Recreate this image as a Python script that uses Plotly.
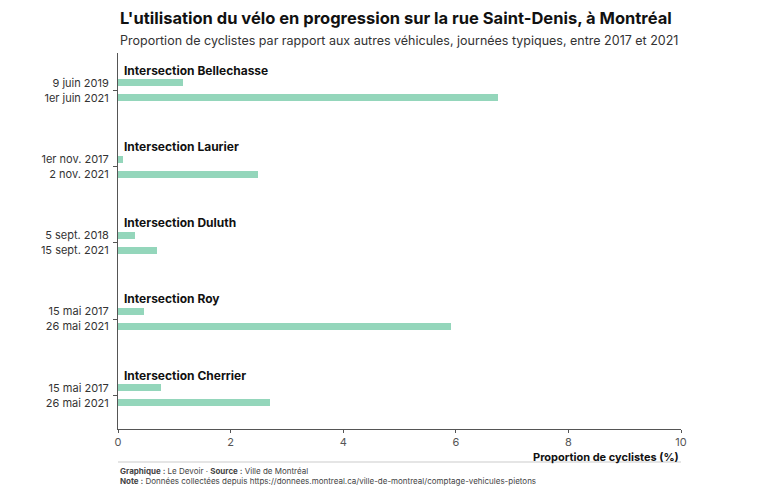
import plotly.graph_objects as go

intersections = ["Intersection Bellechasse", "Intersection Laurier", "Intersection Duluth",
                 "Intersection Roy", "Intersection Cherrier"]
dates_first = ["9 juin 2019", "1er nov. 2017", "5 sept. 2018", "15 mai 2017", "15 mai 2017"]
dates_second = ["1er juin 2021", "2 nov. 2021", "15 sept. 2021", "26 mai 2021", "26 mai 2021"]
values_first = [1.15, 0.09, 0.30, 0.46, 0.76]
values_second = [6.75, 2.49, 0.69, 5.92, 2.70]
x_ticks = [0, 2, 4, 6, 8, 10]

GAP = 5.1  # spacing between groups (in bar slots)
BAR_COLOR = "#94d6bb"
FONT = "Inter"

ys, xs, labels = [], [], []
for i in range(len(intersections)):
    ys += [i * GAP, i * GAP + 1]
    xs += [values_first[i], values_second[i]]
    labels += [dates_first[i], dates_second[i]]

fig = go.Figure()
fig.add_trace(go.Bar(
    x=xs, y=ys, orientation="h", width=0.48,
    marker=dict(color=BAR_COLOR, line=dict(width=0)),
    hoverinfo="x+text", text=labels, textposition="none",
))

for i, name in enumerate(intersections):
    fig.add_annotation(
        x=0, y=i * GAP - 0.85, xref="x", yref="y", text="<b>" + name + "</b>",
        showarrow=False, xanchor="left", yanchor="middle", xshift=4,
        font=dict(family=FONT, size=12, color="#111"),
    )

last = (len(intersections) - 1) * GAP + 1
fig.update_yaxes(
    range=[last + 1.75, -2.0],
    tickvals=ys, ticktext=labels, ticks="",
    tickfont=dict(family=FONT, size=11, color="#333"),
    showgrid=False, zeroline=False,
    showline=True, linecolor="#555", linewidth=1,
    minor=dict(tick0=0.5, dtick=GAP, ticks="outside", ticklen=4, tickcolor="#555", showgrid=False),
    ticklabelstandoff=6,
)
fig.update_xaxes(
    range=[0, 10], tickvals=x_ticks, ticks="outside", ticklen=3, tickcolor="#555",
    tickfont=dict(family=FONT, size=11, color="#555"),
    showgrid=False, zeroline=False,
    showline=True, linecolor="#555", linewidth=1,
    ticklabelstandoff=0,
)

fig.add_annotation(
    x=1, y=0, xref="paper", yref="paper", text="<b>Proportion de cyclistes (%)</b>",
    showarrow=False, xanchor="right", yanchor="middle", yshift=-27.5,
    font=dict(family=FONT, size=11, color="#111"),
)

fig.add_annotation(
    x=0, y=1, xref="paper", yref="paper",
    text="<b>L'utilisation du vélo en progression sur la rue Saint-Denis, à Montréal</b>",
    showarrow=False, xanchor="left", yanchor="middle", yshift=35,
    font=dict(family=FONT, size=16.5, color="#111"),
)
fig.add_annotation(
    x=0, y=1, xref="paper", yref="paper",
    text="Proportion de cyclistes par rapport aux autres véhicules, journées typiques, entre 2017 et 2021",
    showarrow=False, xanchor="left", yanchor="middle", yshift=13,
    font=dict(family=FONT, size=12.5, color="#333"),
)

fig.update_layout(
    width=768, height=492,
    margin=dict(l=118, r=87, t=53, b=63),
    paper_bgcolor="white", plot_bgcolor="white",
    showlegend=False, bargap=0,
)

fig.add_shape(type="line", xref="paper", yref="paper", x0=0, x1=1, y0=-33 / 376, y1=-33 / 376,
              line=dict(color="#ddd", width=1.5))

fig.add_annotation(
    x=0, y=0, xref="paper", yref="paper", xanchor="left", yanchor="top", showarrow=False,
    align="left", yshift=-35,
    text="<b>Graphique :</b> Le Devoir · <b>Source :</b> Ville de Montréal"
         "<br><b>Note :</b> Données collectées depuis https://donnees.montreal.ca/ville-de-montreal/comptage-vehicules-pietons",
    font=dict(family=FONT, size=8, color="#444"),
)

fig.write_html("out.html")
